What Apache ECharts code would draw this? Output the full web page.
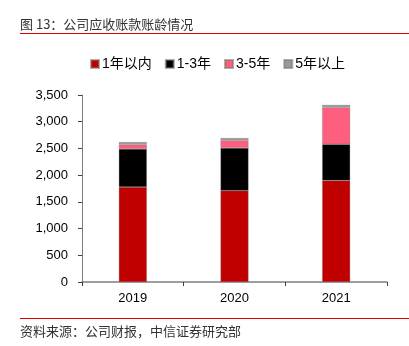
<!DOCTYPE html>
<html>
<head>
<meta charset="utf-8">
<script src="https://cdn.jsdelivr.net/npm/echarts@6/dist/echarts.min.js"></script>
<style>
html,body{margin:0;padding:0;background:#fff;}
#c{width:409px;height:346px;}
</style>
</head>
<body>
<div id="c"></div>
<script>
var categories = ['2019', '2020', '2021'];
var seriesNames = ['1年以内', '1-3年', '3-5年', '5年以上'];
var within1 = [1780, 1710, 1900];
var y1to3 = [710, 800, 680];
var y3to5 = [80, 140, 685];
var over5 = [50, 45, 50];
var yTicks = [0, 500, 1000, 1500, 2000, 2500, 3000, 3500];

var colors = ['#C00000', '#000000', '#FF5F7E', '#999999'];
var values = [within1, y1to3, y3to5, over5];
var font = '"Liberation Sans", "Noto Sans CJK SC", sans-serif';

var chart = echarts.init(document.getElementById('c'), null, {renderer: 'canvas'});
chart.setOption({
  animation: false,
  backgroundColor: '#fff',
  graphic: [
    {type: 'text', left: 20, top: 18, style: {text: '图 13：公司应收账款账龄情况', font: '13px "Noto Sans CJK SC", sans-serif', fill: '#333'}},
    {type: 'rect', shape: {x: 20, y: 33, width: 389, height: 1}, style: {fill: '#E00000'}},
    {type: 'rect', shape: {x: 20, y: 318, width: 389, height: 1}, style: {fill: '#E00000'}},
    {type: 'text', left: 20, top: 325, style: {text: '资料来源：公司财报，中信证券研究部', font: '13px "Noto Sans CJK SC", sans-serif', fill: '#333'}}
  ],
  legend: {
    top: 52,
    left: 85,
    itemWidth: 8,
    itemHeight: 8,
    itemGap: 13,
    icon: 'rect',
    textStyle: {fontSize: 14, color: '#000', fontFamily: font, padding: [0, 0, 0, -2]},
    data: seriesNames
  },
  grid: {left: 82, right: 22, top: 95, bottom: 64, containLabel: false},
  xAxis: {
    type: 'category',
    data: categories,
    axisLine: {lineStyle: {color: '#7f7f7f', width: 1.5}},
    axisTick: {show: true, alignWithLabel: false, length: 4, lineStyle: {color: '#404040'}},
    axisLabel: {fontSize: 13, color: '#000', fontFamily: font, margin: 10}
  },
  yAxis: {
    type: 'value',
    min: yTicks[0],
    max: yTicks[yTicks.length - 1],
    interval: 500,
    axisLine: {show: true, lineStyle: {color: '#7f7f7f'}},
    axisTick: {show: true, length: 4, lineStyle: {color: '#404040'}},
    splitLine: {show: false},
    axisLabel: {fontSize: 13, color: '#000', fontFamily: font, margin: 14,
      formatter: function (v) { return v.toLocaleString('en-US'); }}
  },
  series: seriesNames.map(function (n, i) {
    return {
      name: n,
      type: 'bar',
      stack: 'total',
      barWidth: 28,
      data: values[i],
      itemStyle: {color: colors[i], borderColor: 'rgba(120,120,120,0.6)', borderWidth: 0.5}
    };
  })
});
</script>
</body>
</html>
